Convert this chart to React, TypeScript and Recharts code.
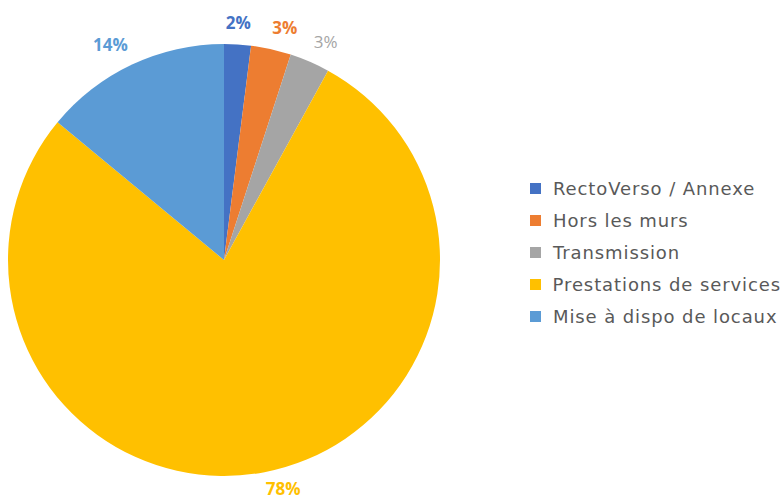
import React from "react";
import { PieChart, Pie, Cell, Legend } from "recharts";

const categories = ["RectoVerso / Annexe", "Hors les murs", "Transmission", "Prestations de services", "Mise à dispo de locaux"];
const values = [2, 3, 3, 78, 14];
const labels = ["2%", "3%", "3%", "78%", "14%"];
const colors = ["#4472C4", "#ED7D31", "#A5A5A5", "#FFC000", "#5B9BD5"];
const labelWeights = ["bold", "bold", "normal", "bold", "bold"];

const data = categories.map((name, i) => ({ name, value: values[i], label: labels[i] }));

const RAD = Math.PI / 180;

const renderLabel = (props: any) => {
  const { cx, cy, midAngle, outerRadius, index } = props;
  const r = outerRadius + 12;
  const sinT = Math.cos(midAngle * RAD);
  const cosT = Math.sin(midAngle * RAD);
  const px = cx + r * sinT;
  const py = cy - r * cosT;
  const txt = labels[index];
  const w = txt.length * 11;
  const sx = Math.min(1, Math.max(0, (Math.abs(sinT) - 0.08) * 10)) * Math.sign(sinT);
  const dy = cosT >= 0 ? -9.5 : 5;
  const x = px + (sx * w) / 2;
  const y = py + dy;
  return (
    <text
      x={x}
      y={y}
      fill={colors[index]}
      textAnchor="middle"
      dominantBaseline="central"
      fontFamily="'Open Sans', sans-serif"
      fontSize={17}
      fontWeight={labelWeights[index] as any}
    >
      {txt}
    </text>
  );
};

const renderLegend = () => (
  <div style={{ fontFamily: "'DejaVu Sans', sans-serif", fontSize: 18, letterSpacing: 0.9, color: "#595959" }}>
    {categories.map((c, i) => (
      <div key={c} style={{ display: "flex", alignItems: "center", height: 32 }}>
        <span style={{ display: "inline-block", width: 11, height: 11, background: colors[i], marginRight: 12 }} />
        <span style={{ whiteSpace: "nowrap" }}>{c}</span>
      </div>
    ))}
  </div>
);

export default function App() {
  return (
    <div style={{ position: "absolute", left: 0, top: 0, background: "#fff" }}>
      <PieChart width={781} height={499} margin={{ top: 0, right: 0, bottom: 0, left: 0 }}>
        <Pie
          data={data}
          dataKey="value"
          nameKey="name"
          cx={224}
          cy={260}
          outerRadius={216}
          startAngle={90}
          endAngle={-270}
          stroke="none"
          isAnimationActive={false}
          label={renderLabel}
          labelLine={false}
        >
          {data.map((d, i) => (
            <Cell key={d.name} fill={colors[i]} />
          ))}
        </Pie>
        <Legend
          content={renderLegend}
          layout="vertical"
          verticalAlign="top"
          align="right"
          wrapperStyle={{ position: "absolute", left: 530, top: 172, width: 251 }}
        />
      </PieChart>
    </div>
  );
}
